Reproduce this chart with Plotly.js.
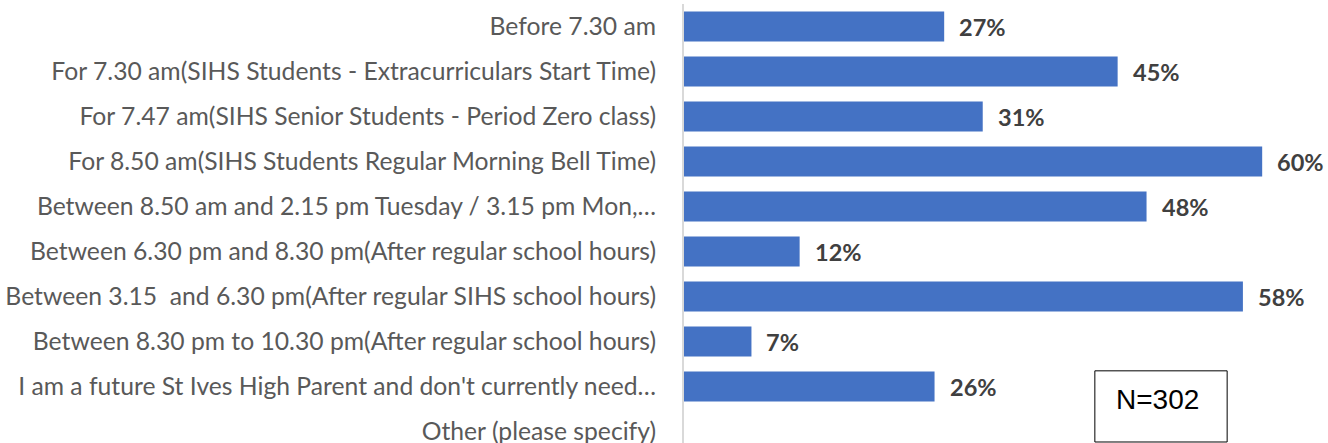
<!DOCTYPE html>
<html>
<head>
<meta charset="utf-8">
<script src="https://cdn.plot.ly/plotly-3.0.1.min.js"></script>
<style>html,body{margin:0;padding:0;background:#fff;}#chart{width:1328px;height:443px;}</style>
</head>
<body>
<div id="chart"></div>
<script>
const categories = [
  "Before 7.30 am",
  "For 7.30 am(SIHS Students - Extracurriculars Start Time)",
  "For 7.47 am(SIHS Senior Students - Period Zero class)",
  "For 8.50 am(SIHS Students Regular Morning Bell Time)",
  "Between 8.50 am and 2.15 pm Tuesday / 3.15 pm Mon,…",
  "Between 6.30 pm and 8.30 pm(After regular school hours)",
  "Between 3.15  and 6.30 pm(After regular SIHS school hours)",
  "Between 8.30 pm to 10.30 pm(After regular school hours)",
  "I am a future St Ives High Parent and don't currently need…",
  "Other (please specify)"
];
const values = [27, 45, 31, 60, 48, 12, 58, 7, 26, null];
const sampleNote = "N=302";

const labelAnnotations = categories.map((c, i) => values[i] == null ? null : ({
  x: values[i], y: c, xref: 'x', yref: 'y',
  text: '<b>' + values[i] + '%</b>',
  showarrow: false, xanchor: 'left', yanchor: 'middle', xshift: 13,
  font: {family: 'Lato, sans-serif', size: 23.5, color: '#404040'}
})).filter(a => a);

const trace = {
  type: 'bar', orientation: 'h',
  x: values, y: categories,
  marker: {color: '#4472C4'},
  hoverinfo: 'none'
};

const layout = {
  width: 1328, height: 443,
  margin: {l: 684, r: 8, t: 4, b: 0, pad: 0},
  paper_bgcolor: '#ffffff', plot_bgcolor: '#ffffff',
  showlegend: false,
  bargap: 0.333,
  xaxis: {range: [0, 66], showgrid: false, zeroline: false, showline: false,
          showticklabels: false, ticks: '', fixedrange: true},
  yaxis: {type: 'category', range: [9.255, -0.5], showgrid: false, zeroline: false,
          showline: true, linecolor: '#d9d9d9', linewidth: 2, ticks: '',
          ticklabelstandoff: 21,
          tickfont: {family: 'Lato, sans-serif', size: 24.7, color: '#595959'},
          fixedrange: true},
  shapes: [{type: 'rect', xref: 'paper', yref: 'paper',
            x0: 0.646, x1: 0.854, y0: 0.0023, y1: 0.1644,
            line: {color: '#000000', width: 1}, fillcolor: 'rgba(0,0,0,0)'}],
  annotations: labelAnnotations.concat([{
    xref: 'paper', yref: 'paper', x: 0.745, y: 0.098,
    xanchor: 'center', yanchor: 'middle', showarrow: false,
    text: sampleNote,
    font: {family: 'Liberation Sans, Arial, sans-serif', size: 28, color: '#000000'}
  }])
};

Plotly.newPlot('chart', [trace], layout, {displayModeBar: false, staticPlot: true});
</script>
</body>
</html>
